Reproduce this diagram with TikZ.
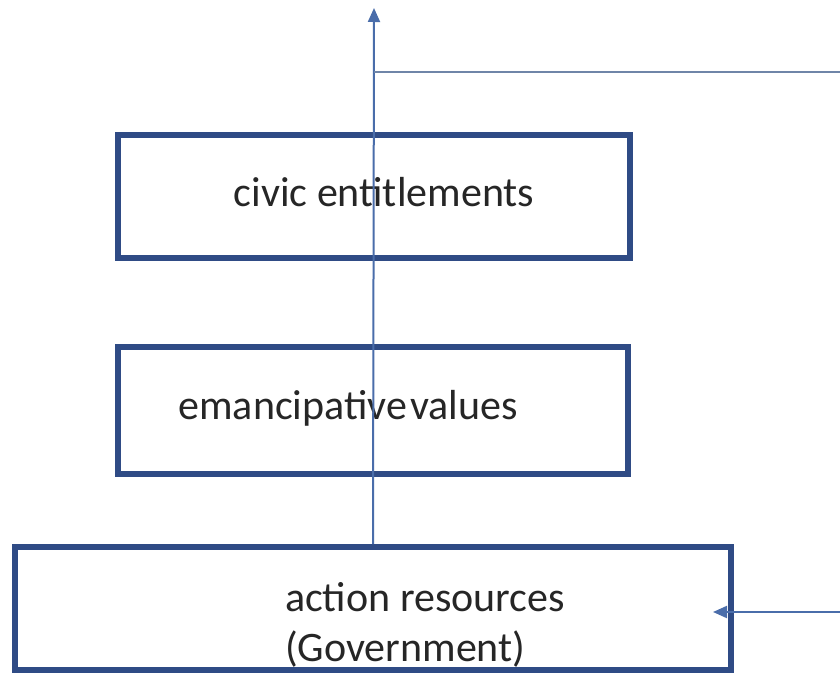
\documentclass[tikz,border=0pt]{standalone}
\usepackage{fontspec}
\setmainfont{Carlito}
\usetikzlibrary{arrows.meta}

\definecolor{boxblue}{HTML}{2F4B85}
\definecolor{arrowblue}{HTML}{4A6DAA}
\definecolor{lineblue}{HTML}{6F85A8}

\tikzset{
  box/.style={draw=boxblue, line width=3pt, fill=white, inner sep=0pt},
  boxtext/.style={font=\fontsize{21}{25}\selectfont, text=black!85},
  flow/.style={arrowblue, line width=1pt, -{Triangle[width=6pt,length=7pt]}}
}

\begin{document}
\begin{tikzpicture}[x=0.5pt,y=-0.5pt]
    \useasboundingbox (0,0) rectangle (840,674);

    % boxes
    \node[box, minimum width=256pt, minimum height=61.5pt] (civic) at (374,196.5) {};
    \node[box, minimum width=255pt, minimum height=63.5pt] (values) at (373,410.5) {};
    \node[box, minimum width=358pt, minimum height=61.5pt] (action) at (373,608.5) {};

    % labels
    \node[boxtext] (civictxt) at (384,192) {civic entitlements};
    \node[boxtext] (valuestxt) at (348,408) {emancipative\hspace{1.5pt}values};
    \node[boxtext, align=left, anchor=west] (actiontxt) at (278,625) {action resources\\(Government)};

    % upward arrow through the boxes
    \coordinate (top) at (374,8);
    \draw[flow] (action.north) -- (top);

    % feedback line on the right
    \coordinate (join) at (374,72);
    \coordinate (rtop) at (840,72);
    \draw[lineblue, line width=1pt] (join) -- (rtop);
    \coordinate (rbot) at (840,612);
    \coordinate (tip) at (713,612);
    \draw[flow] (rbot) -- (tip);
\end{tikzpicture}
\end{document}
